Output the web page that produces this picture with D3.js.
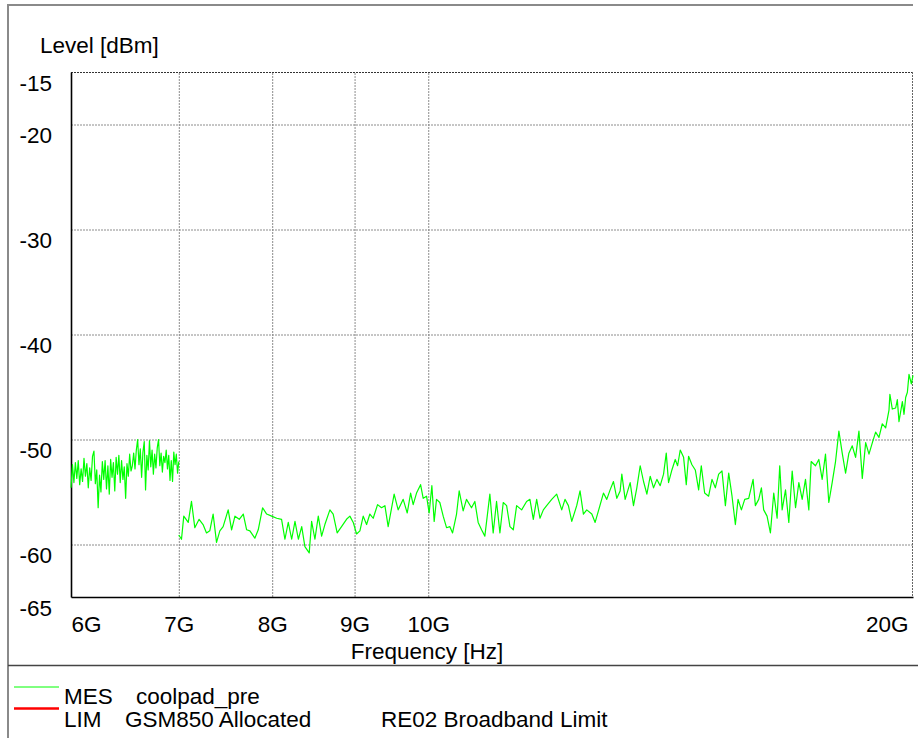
<!DOCTYPE html>
<html>
<head>
<meta charset="utf-8">
<script src="https://cdn.jsdelivr.net/npm/d3@7"></script>
<style>
  body { margin: 0; background: #fff; }
  svg { display: block; font-family: "Liberation Sans", Arial, sans-serif; }
</style>
</head>
<body>
<div id="chart"></div>
<script>
// axis ticks
const yTicks = [-15, -20, -30, -40, -50, -60, -65];
const yGrid = [-20, -30, -40, -50, -60];
const xTicks = [6, 7, 8, 9, 10, 20];            // GHz
const xTickLabels = ["6G", "7G", "8G", "9G", "10G", "20G"];
const xGrid = [7, 8, 9, 10];

// MES trace, first sweep 6 - 7 GHz
const band1Freq = [6.0000, 6.0125, 6.0250, 6.0375, 6.0500, 6.0625, 6.0750, 6.0875, 6.1000, 6.1125,
  6.1250, 6.1375, 6.1500, 6.1625, 6.1750, 6.1875, 6.2000, 6.2125, 6.2250, 6.2375,
  6.2500, 6.2625, 6.2750, 6.2875, 6.3000, 6.3125, 6.3250, 6.3375, 6.3500, 6.3625,
  6.3750, 6.3875, 6.4000, 6.4125, 6.4250, 6.4375, 6.4500, 6.4625, 6.4750, 6.4875,
  6.5000, 6.5125, 6.5250, 6.5375, 6.5500, 6.5625, 6.5750, 6.5875, 6.6000, 6.6125,
  6.6250, 6.6375, 6.6500, 6.6625, 6.6750, 6.6875, 6.7000, 6.7125, 6.7250, 6.7375,
  6.7500, 6.7625, 6.7750, 6.7875, 6.8000, 6.8125, 6.8250, 6.8375, 6.8500, 6.8625,
  6.8750, 6.8875, 6.9000, 6.9125, 6.9250, 6.9375, 6.9500, 6.9625, 6.9750, 6.9875, 7.0000];
const band1Level = [-54.6, -52.4, -54.1, -52.2, -53.7, -52.0, -54.3, -52.8, -54.0, -51.8,
  -53.5, -52.3, -54.6, -52.7, -53.9, -51.6, -51.1, -54.2, -52.9, -56.5,
  -53.4, -55.0, -52.1, -53.8, -52.0, -54.7, -52.5, -55.2, -51.9, -53.6,
  -52.2, -54.9, -51.7, -53.3, -51.5, -54.1, -52.0, -53.8, -52.6, -55.6,
  -52.3, -53.5, -51.4, -53.0, -52.5, -51.3, -52.8, -51.0, -50.0, -52.4,
  -50.9, -53.6, -51.2, -50.2, -54.8, -51.5, -52.9, -50.1, -52.6, -51.0,
  -53.3, -51.4, -52.7, -50.8, -50.0, -52.5, -51.3, -53.1, -51.6, -52.2,
  -51.0, -52.8, -51.5, -53.9, -52.0, -54.0, -51.2, -52.4, -51.4, -53.2, -52.1];

// MES trace, second sweep 7 - 20 GHz
const band2Freq = [7.000, 7.027, 7.050, 7.095, 7.128, 7.162, 7.206, 7.247, 7.283, 7.317,
  7.352, 7.388, 7.423, 7.458, 7.512, 7.549, 7.585, 7.632, 7.676, 7.713,
  7.749, 7.804, 7.842, 7.891, 7.937, 7.994, 8.052, 8.108, 8.147, 8.186,
  8.226, 8.265, 8.305, 8.345, 8.383, 8.435, 8.464, 8.504, 8.545, 8.586,
  8.626, 8.688, 8.729, 8.779, 8.834, 8.897, 8.940, 8.983, 9.026, 9.069,
  9.112, 9.156, 9.199, 9.243, 9.301, 9.354, 9.399, 9.443, 9.524, 9.579,
  9.648, 9.704, 9.751, 9.787, 9.834, 9.891, 9.928, 9.976, 10.013, 10.052,
  10.085, 10.119, 10.167, 10.216, 10.265, 10.314, 10.354, 10.413, 10.452,
  10.512, 10.562, 10.638, 10.689, 10.740, 10.792, 10.843, 10.921, 10.973, 11.026,
  11.079, 11.132, 11.186, 11.239, 11.293, 11.347, 11.429, 11.510, 11.565, 11.621,
  11.677, 11.732, 11.789, 11.845, 11.931, 12.016, 12.103, 12.160, 12.219, 12.278,
  12.365, 12.424, 12.484, 12.544, 12.635, 12.695, 12.755, 12.847, 12.908, 12.970,
  13.032, 13.095, 13.157, 13.189, 13.252, 13.347, 13.411, 13.475, 13.540, 13.605,
  13.670, 13.735, 13.801, 13.867, 13.933, 14.000, 14.054, 14.100, 14.168, 14.236,
  14.284, 14.338, 14.407, 14.462, 14.510, 14.580, 14.650, 14.720, 14.776, 14.847,
  14.932, 15.004, 15.076, 15.148, 15.220, 15.294, 15.367, 15.440, 15.514, 15.574,
  15.648, 15.723, 15.813, 15.912, 15.964, 16.041, 16.102, 16.155, 16.233, 16.311,
  16.389, 16.468, 16.530, 16.587, 16.667, 16.746, 16.827, 16.908, 16.988, 17.069,
  17.150, 17.232, 17.290, 17.397, 17.480, 17.564, 17.648, 17.732, 17.817, 17.903,
  17.989, 18.075, 18.162, 18.248, 18.336, 18.424, 18.512, 18.601, 18.691, 18.780,
  18.871, 18.959, 19.050, 19.141, 19.233, 19.325, 19.350, 19.417, 19.510, 19.557,
  19.603, 19.698, 19.745, 19.791, 19.840, 19.886, 19.953, 20.000];
const band2Level = [-59.1, -59.5, -57.3, -57.9, -55.9, -58.4, -57.6, -58.1, -58.9, -58.7,
  -57.1, -59.8, -58.7, -58.3, -56.7, -58.6, -57.3, -57.6, -57.1, -58.6,
  -58.7, -59.4, -58.6, -56.5, -57.1, -57.3, -57.5, -57.6, -59.5, -57.9,
  -59.5, -57.8, -59.5, -58.3, -60.2, -60.8, -57.8, -59.5, -57.3, -59.2,
  -58.1, -56.7, -57.1, -58.9, -58.3, -57.6, -57.3, -57.9, -59.0, -58.7,
  -57.3, -58.1, -57.1, -57.5, -56.2, -56.5, -56.3, -58.3, -55.2, -56.7,
  -55.7, -57.0, -55.1, -56.2, -55.1, -54.3, -55.6, -55.4, -57.0, -54.4,
  -57.8, -55.7, -56.0, -57.3, -58.4, -58.3, -58.9, -57.1, -54.9,
  -56.8, -55.7, -56.5, -55.9, -57.9, -58.6, -59.2, -55.2, -58.9, -55.9,
  -58.9, -56.0, -56.3, -58.3, -58.6, -56.3, -56.7, -55.9, -55.7, -57.6,
  -55.7, -57.5, -56.7, -56.3, -55.7, -55.2, -56.7, -55.7, -56.3, -57.8,
  -56.3, -54.9, -57.1, -56.7, -57.1, -57.9, -56.8, -55.1, -55.7, -54.8,
  -54.0, -55.6, -54.9, -53.3, -55.7, -54.1, -56.3, -54.6, -52.5, -54.0,
  -55.2, -53.5, -54.6, -53.8, -54.4, -53.3, -51.3, -54.1, -52.9, -51.9,
  -52.5, -51.0, -51.7, -54.3, -51.6, -52.4, -52.9, -54.8, -52.5, -55.1,
  -55.4, -53.8, -54.6, -53.3, -53.0, -56.3, -53.2, -55.4, -58.1, -55.7,
  -56.7, -55.7, -55.6, -53.8, -56.3, -55.7, -54.6, -56.7, -57.3, -58.9,
  -55.1, -57.5, -52.5, -56.7, -54.8, -57.9, -53.0, -56.5, -54.1, -55.7,
  -53.8, -56.7, -52.1, -52.5, -51.9, -53.8, -51.4, -56.0, -54.1, -52.1,
  -49.2, -51.3, -53.2, -51.3, -50.6, -51.7, -49.2, -53.7, -50.3, -51.4,
  -50.3, -49.3, -49.8, -48.5, -48.9, -47.2, -45.7, -47.1, -47.0, -46.2,
  -48.3, -46.4, -47.6, -46.0, -45.5, -43.8, -44.7, -43.9];

// legend
const legendCodes = ["MES", "LIM"];
const legendNames = ["coolpad_pre", "GSM850 Allocated"];
const legendExtra = ["", "RE02 Broadband Limit"];
const legendColors = ["#00ff00", "#ff0000"];

const W = 918, H = 738;
const margin = {top: 72, left: 71};
const width = 842, height = 525;
const fontSize = 22.5;

const svg = d3.select("#chart").append("svg")
    .attr("width", W).attr("height", H);

// outer frame and legend separator
svg.append("line").attr("x1", 8).attr("x2", 913).attr("y1", 5).attr("y2", 5)
    .attr("stroke", "#8a8a8a").attr("stroke-width", 2);
svg.append("line").attr("x1", 8).attr("x2", 8).attr("y1", 4).attr("y2", H)
    .attr("stroke", "#8a8a8a").attr("stroke-width", 2);
svg.append("line").attr("x1", 8).attr("x2", W).attr("y1", 665.5).attr("y2", 665.5)
    .attr("stroke", "#444").attr("stroke-width", 1.5);

const g = svg.append("g").attr("transform", "translate(" + margin.left + "," + margin.top + ")");

const x = d3.scaleLog().domain([6, 20]).range([0, width]);
const y = d3.scaleLinear().domain([-65, -15]).range([height, 0]);

// grid
g.append("g")
    .call(d3.axisLeft(y).tickValues(yGrid).tickSize(-width).tickFormat(""))
    .call(a => a.select(".domain").remove())
    .selectAll("line")
      .attr("stroke", "#8c8c8c")
      .attr("stroke-dasharray", "2,1");

g.append("g")
    .attr("transform", "translate(0," + height + ")")
    .call(d3.axisBottom(x).tickValues(xGrid).tickSize(-height).tickFormat(""))
    .call(a => a.select(".domain").remove())
    .selectAll("line")
      .attr("stroke", "#8c8c8c")
      .attr("stroke-dasharray", "2,1");

// dotted top and right border
g.append("line").attr("x1", 0).attr("x2", width).attr("y1", y(-15) + 0.5).attr("y2", y(-15) + 0.5)
    .attr("stroke", "#333").attr("stroke-dasharray", "2,1");
g.append("line").attr("x1", width - 0.5).attr("x2", width - 0.5).attr("y1", 0).attr("y2", height)
    .attr("stroke", "#666").attr("stroke-dasharray", "2,1");

// y axis (plain hyphen for the minus sign)
const yAxis = g.append("g")
    .call(d3.axisLeft(y).tickValues(yTicks).tickFormat(d => String(d))
      .tickSize(0).tickSizeOuter(0).tickPadding(19));
yAxis.select(".domain").attr("stroke", "#000").attr("stroke-width", 1.6);
yAxis.selectAll("text")
    .attr("dy", 18)
    .attr("fill", "#000")
    .style("font-size", fontSize + "px")
    .style("font-family", "'Liberation Sans', Arial, sans-serif");

// x axis
const xAxis = g.append("g")
    .attr("transform", "translate(0," + height + ")")
    .call(d3.axisBottom(x).tickValues(xTicks).tickFormat((d, i) => xTickLabels[i])
      .tickSize(0).tickSizeOuter(0).tickPadding(0));
xAxis.select(".domain").attr("stroke", "#000").attr("stroke-width", 1.6);
xAxis.selectAll("text")
    .attr("y", 35)
    .attr("dy", 0)
    .attr("fill", "#000")
    .style("font-size", fontSize + "px")
    .style("font-family", "'Liberation Sans', Arial, sans-serif")
    .attr("text-anchor", (d, i) => i === 0 ? "start" : (i === xTicks.length - 1 ? "end" : "middle"))
    .attr("x", (d, i) => i === xTicks.length - 1 ? -5 : 0);

// axis titles
svg.append("text").attr("x", 40).attr("y", 53)
    .style("font-size", fontSize + "px").text("Level [dBm]");
svg.append("text").attr("x", 427).attr("y", 659).attr("text-anchor", "middle")
    .style("font-size", fontSize + "px").text("Frequency [Hz]");

// trace
const line = d3.line()
    .x(d => x(d[0]))
    .y(d => y(d[1]));

[d3.zip(band1Freq, band1Level), d3.zip(band2Freq, band2Level)].forEach(seg => {
  g.append("path")
      .datum(seg)
      .attr("fill", "none")
      .attr("stroke", legendColors[0])
      .attr("stroke-width", 1.2)
      .attr("stroke-linejoin", "round")
      .attr("d", line);
});

// legend
const legendY = [687, 708.5];
const legendBase = [704, 727];
legendCodes.forEach((code, i) => {
  svg.append("line")
      .attr("x1", 14).attr("x2", 59)
      .attr("y1", legendY[i]).attr("y2", legendY[i])
      .attr("stroke", legendColors[i])
      .attr("stroke-width", i === 0 ? 1 : 2.5);
  svg.append("text").attr("x", 64).attr("y", legendBase[i])
      .style("font-size", fontSize + "px").text(code);
  svg.append("text").attr("x", i === 0 ? 136 : 125).attr("y", legendBase[i])
      .style("font-size", fontSize + "px").text(legendNames[i]);
  if (legendExtra[i]) {
    svg.append("text").attr("x", 381).attr("y", legendBase[i])
        .style("font-size", fontSize + "px").text(legendExtra[i]);
  }
});
</script>
</body>
</html>
